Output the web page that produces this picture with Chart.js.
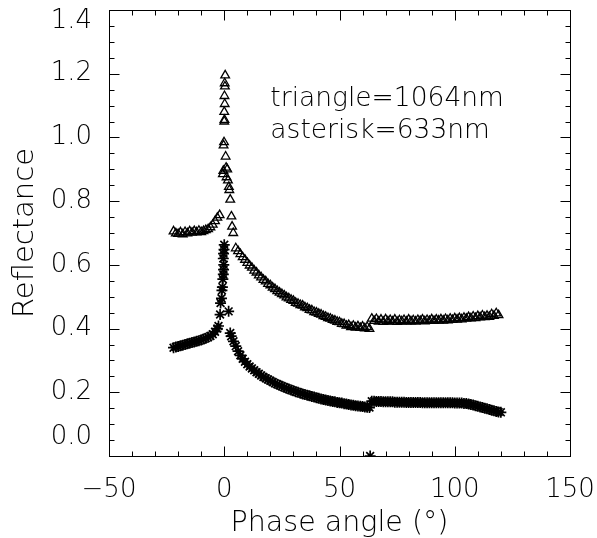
<!DOCTYPE html>
<html>
<head>
<meta charset="utf-8">
<script src="https://cdn.jsdelivr.net/npm/chart.js@4/dist/chart.umd.min.js"></script>
<style>
  html, body { margin: 0; padding: 0; background: #fff; }
</style>
</head>
<body>
<canvas id="phase" width="597" height="538"></canvas>
<script>
// tick labels
const xMajorTicks = [-50, 0, 50, 100, 150];
const yMajorTicks = [0, 0.2, 0.4, 0.6, 0.8, 1.0, 1.2, 1.4];

// triangle = 1064 nm
const triAngle = [
  -22, -21, -20, -19, -18, -17, -16, -15, -14, -13, -12, -11, -10, -9, -8, -7, -6, -5, -4, -3, -2,
  -0.6, -0.4, -0.3, -0.1, 0, 0.1, 0, 0.2, 0.1, 0.3, 0.2, 0.4, 0.6, 0.8, 1.0, 1.3, 1.6, 2.0, 2.2, 2.6, 3.1, 3.4, 3.9,
  5, 6, 7, 8, 9, 10, 11, 12, 13, 14, 15, 16, 17, 18, 19, 20, 21, 22, 23, 24, 25, 26, 27, 28, 29,
  30, 31, 32, 33, 34, 35, 36, 37, 38, 39, 40, 41, 42, 43, 44, 45, 46, 47, 48, 49,
  50, 51, 52, 53, 54, 55, 56, 57, 58, 59, 60, 61, 62, 63, 64, 65, 66, 67, 68, 69,
  70, 71, 72, 73, 74, 75, 76, 77, 78, 79, 80, 81, 82, 83, 84, 85, 86, 87, 88, 89,
  90, 91, 92, 93, 94, 95, 96, 97, 98, 99, 100, 101, 102, 103, 104, 105, 106, 107, 108, 109,
  110, 111, 112, 113, 114, 115, 116, 117, 118, 119
];
const triRefl = [
  0.705, 0.699, 0.697, 0.702, 0.696, 0.703, 0.699, 0.705, 0.701, 0.706, 0.702, 0.707, 0.703, 0.706, 0.709, 0.712, 0.718, 0.726, 0.737, 0.748, 0.756,
  0.885, 0.895, 0.975, 0.985, 1.05, 1.055, 1.08, 1.105, 1.13, 1.16, 1.17, 1.195, 0.94, 0.905, 0.875, 0.9, 0.865, 0.845, 0.835, 0.805, 0.752, 0.72, 0.70,
  0.652, 0.643, 0.634, 0.624, 0.616, 0.606, 0.598, 0.591, 0.582, 0.576, 0.567, 0.561, 0.553, 0.548, 0.540, 0.536, 0.529, 0.524, 0.518, 0.513, 0.508, 0.504, 0.498, 0.495, 0.490,
  0.487, 0.481, 0.478, 0.474, 0.472, 0.467, 0.464, 0.459, 0.457, 0.452, 0.450, 0.446, 0.444, 0.439, 0.437, 0.433, 0.431, 0.427, 0.425, 0.421,
  0.420, 0.415, 0.414, 0.409, 0.411, 0.405, 0.409, 0.403, 0.407, 0.402, 0.406, 0.401, 0.405, 0.399, 0.431, 0.424, 0.430, 0.422, 0.428, 0.421,
  0.429, 0.423, 0.427, 0.422, 0.428, 0.421, 0.426, 0.423, 0.427, 0.422, 0.428, 0.423, 0.426, 0.422, 0.427, 0.424, 0.428, 0.423, 0.427, 0.424,
  0.429, 0.424, 0.428, 0.425, 0.429, 0.425, 0.430, 0.426, 0.431, 0.427, 0.432, 0.428, 0.433, 0.429, 0.434, 0.431, 0.436, 0.432, 0.438, 0.433,
  0.439, 0.435, 0.441, 0.436, 0.440, 0.437, 0.445, 0.440, 0.448, 0.442
];

// asterisk = 633 nm
const astAngle = [
  -22, -21, -20, -19, -18, -17, -16, -15, -14, -13, -12, -11, -10, -9, -8, -7, -6, -5, -4, -3, -2.5,
  -1.8, -1.6, -1.2, -1.0, -0.8, -0.6, -0.4, -0.3, -0.2, -0.4, -0.3, -0.1, 0, 1.9,
  2.6, 3, 4, 5, 6, 7, 8, 9, 10, 11, 12, 13, 14, 15, 16, 17, 18, 19, 20, 21, 22, 23, 24, 25, 26, 27, 28, 29,
  30, 31, 32, 33, 34, 35, 36, 37, 38, 39, 40, 41, 42, 43, 44, 45, 46, 47, 48, 49,
  50, 51, 52, 53, 54, 55, 56, 57, 58, 59, 60, 61, 62, 63, 64, 65, 66, 67, 68, 69,
  70, 71, 72, 73, 74, 75, 76, 77, 78, 79, 80, 81, 82, 83, 84, 85, 86, 87, 88, 89,
  90, 91, 92, 93, 94, 95, 96, 97, 98, 99, 100, 101, 102, 103, 104, 105, 106, 107, 108, 109,
  110, 111, 112, 113, 114, 115, 116, 117, 118, 119, 120,
  63.3
];
const astRefl = [
  0.340, 0.342, 0.344, 0.346, 0.348, 0.350, 0.352, 0.354, 0.356, 0.358, 0.360, 0.362, 0.364, 0.367, 0.370, 0.373, 0.377, 0.382, 0.390, 0.400, 0.408,
  0.444, 0.480, 0.495, 0.520, 0.530, 0.555, 0.570, 0.585, 0.600, 0.620, 0.635, 0.648, 0.663, 0.454,
  0.386, 0.376, 0.360, 0.345, 0.329, 0.316, 0.305, 0.296, 0.288, 0.281, 0.275, 0.269, 0.263, 0.258, 0.253, 0.248, 0.244, 0.240, 0.236, 0.232, 0.228, 0.225, 0.222, 0.219, 0.216, 0.213, 0.210, 0.207,
  0.205, 0.202, 0.200, 0.197, 0.195, 0.193, 0.191, 0.189, 0.187, 0.185, 0.183, 0.181, 0.179, 0.177, 0.176, 0.174, 0.173, 0.171, 0.170, 0.168,
  0.167, 0.166, 0.164, 0.163, 0.162, 0.160, 0.159, 0.158, 0.157, 0.156, 0.155, 0.154, 0.153, 0.152, 0.172, 0.172, 0.171, 0.171, 0.171, 0.170,
  0.170, 0.170, 0.170, 0.170, 0.169, 0.169, 0.169, 0.169, 0.169, 0.168, 0.168, 0.168, 0.168, 0.168, 0.168, 0.168, 0.167, 0.167, 0.167, 0.167,
  0.167, 0.167, 0.167, 0.167, 0.167, 0.167, 0.167, 0.167, 0.167, 0.167, 0.166, 0.166, 0.166, 0.166, 0.165, 0.165, 0.163, 0.162, 0.160, 0.158,
  0.156, 0.154, 0.152, 0.150, 0.148, 0.146, 0.144, 0.142, 0.140, 0.138, 0.137,
  0.0
];

const FONT = "'DejaVu Sans', sans-serif";

const toPoints = (xs, ys) => xs.map((x, i) => ({ x: x, y: ys[i] }));

// IDL-style frame with inward ticks on all four sides, plus the key text
const frameTicks = {
  id: 'frameTicks',
  afterDatasetsDraw(chart) {
    const { ctx, chartArea: { left, top, right, bottom }, scales: { x, y } } = chart;
    const l = Math.round(left) + 0.5, r = Math.round(right) + 0.5;
    const t = Math.round(top) + 0.5, b = Math.round(bottom) + 0.5;
    ctx.save();
    ctx.strokeStyle = '#000';
    ctx.lineWidth = 1;
    ctx.strokeRect(l, t, r - l, b - t);
    ctx.beginPath();
    x.ticks.forEach(tk => {
      const px = Math.round(x.getPixelForValue(tk.value)) + 0.5;
      const len = xMajorTicks.includes(Math.round(tk.value)) ? 10 : 5;
      ctx.moveTo(px, b); ctx.lineTo(px, b - len);
      ctx.moveTo(px, t); ctx.lineTo(px, t + len);
    });
    y.ticks.forEach(tk => {
      const py = Math.round(y.getPixelForValue(tk.value)) + 0.5;
      const len = Math.round(tk.value * 100) % 20 === 0 ? 10 : 5;
      ctx.moveTo(l, py); ctx.lineTo(l + len, py);
      ctx.moveTo(r, py); ctx.lineTo(r - len, py);
    });
    ctx.stroke();

    ctx.fillStyle = '#000';
    ctx.font = '200 26.5px ' + FONT;
    ctx.textBaseline = 'middle';
    ctx.textAlign = 'left';
    ctx.fillText('triangle=1064nm', x.getPixelForValue(20), y.getPixelForValue(1.12));
    ctx.fillText('asterisk=633nm', x.getPixelForValue(20), y.getPixelForValue(1.02));
    ctx.restore();
  }
};

new Chart(document.getElementById('phase'), {
  type: 'scatter',
  plugins: [frameTicks],
  data: {
    datasets: [
      {
        label: 'triangle=1064nm',
        data: toPoints(triAngle, triRefl),
        pointStyle: 'triangle',
        pointRadius: 5,
        backgroundColor: 'rgba(0,0,0,0)',
        borderColor: '#000',
        borderWidth: 1.3
      },
      {
        label: 'asterisk=633nm',
        data: toPoints(astAngle, astRefl),
        pointStyle: 'star',
        pointRadius: 5.5,
        backgroundColor: 'rgba(0,0,0,0)',
        borderColor: '#000',
        borderWidth: 1.7
      }
    ]
  },
  options: {
    responsive: false,
    animation: false,
    layout: { padding: { top: 10, right: 27, left: 0, bottom: 0 } },
    plugins: {
      legend: { display: false },
      tooltip: { enabled: false }
    },
    scales: {
      x: {
        type: 'linear',
        min: -50,
        max: 150,
        grid: { display: false },
        border: { display: false },
        ticks: {
          stepSize: 10,
          autoSkip: false,
          maxRotation: 0,
          padding: 11,
          color: '#000',
          font: { family: FONT, size: 26, weight: 200 },
          callback: v => xMajorTicks.includes(v) ? String(v).replace('-', '\u2212') : ''
        },
        title: {
          display: true,
          text: 'Phase angle (°)',
          color: '#000',
          padding: 0,
          font: { family: FONT, size: 28.5, weight: 200, lineHeight: 1 }
        },
        afterFit: s => { s.height = 82; s.paddingLeft = 0; s.paddingRight = 0; }
      },
      y: {
        type: 'linear',
        min: 0,
        max: 1.4,
        grid: { display: false },
        border: { display: false },
        ticks: {
          stepSize: 0.05,
          autoSkip: false,
          padding: 9,
          color: '#000',
          font: ctx => {
            const k = ctx.tick ? Math.round(ctx.tick.value * 100) : -1;
            let lh = 1.2;
            if (k === 0) lh = '38px';
            if (k === 140) lh = '22px';
            return { family: FONT, size: 26, weight: 200, lineHeight: lh };
          },
          callback: v => {
            const k = Math.round(v * 100);
            if (!yMajorTicks.some(m => Math.round(m * 100) === k)) return '';
            const label = (k / 100).toFixed(1);
            if (k === 0) return [label, ''];
            if (k === 140) return ['', label];
            return label;
          }
        },
        title: {
          display: true,
          text: 'Reflectance',
          color: '#000',
          padding: { top: 11, bottom: 0 },
          font: { family: FONT, size: 29, weight: 200, lineHeight: 1 }
        },
        afterFit: s => { s.width = 109; s.paddingTop = 0; s.paddingBottom = 0; }
      }
    }
  }
});
</script>
</body>
</html>
